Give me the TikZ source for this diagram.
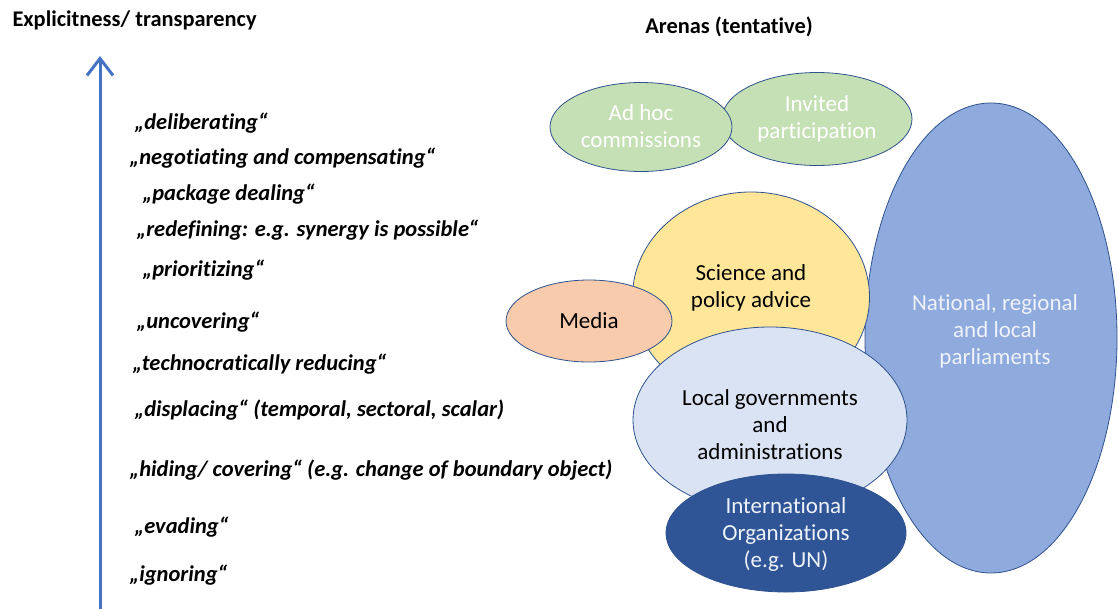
\documentclass[tikz,border=0pt]{standalone}
\usepackage{fontspec}
\setmainfont{Carlito}[Ligatures=NoCommon]
\usetikzlibrary{arrows.meta,shapes.geometric}
\definecolor{arenaline}{HTML}{2F528F}
\definecolor{axisblue}{HTML}{4472C4}
\definecolor{adhocgreen}{HTML}{C5E0B4}
\definecolor{scienceyellow}{HTML}{FFE699}
\definecolor{mediaorange}{HTML}{F8CBAD}
\definecolor{localblue}{HTML}{DAE3F3}
\definecolor{nationalblue}{HTML}{8FAADC}
\definecolor{intlblue}{HTML}{2F5597}
\definecolor{palefont}{HTML}{EEF2FA}
\tikzset{
    >={Straight Barb[length=17pt,width=26pt]},
    heading/.style={font=\fontsize{22.4}{26}\selectfont\bfseries},
    strategy/.style={anchor=west, font=\fontsize{22.5}{26}\selectfont\bfseries\itshape},
    arena/.style={ellipse, draw=arenaline, line width=0.8pt, inner sep=0pt},
    arenatext/.style={inner sep=0pt, align=center, font=\fontsize{23}{27}\selectfont},
}

\begin{document}
\begin{tikzpicture}[x=1pt,y=-1pt]
    \useasboundingbox (0,0) rectangle (1118,608);

    \node[heading, anchor=west] (X) at (9,20) {Explicitness/ transparency};
    \node[heading] (A) at (729,27) {Arenas (tentative)};

    \coordinate (X0) at (100,612);
    \coordinate (X1) at (100,56);
    \draw[->, line width=3pt, axisblue] (X0) -- (X1);

    \node[strategy] (s1) at (131,123) {„deliberating“};
    \node[strategy] (s2) at (126,158) {„negotiating and compensating“};
    \node[strategy] (s3) at (139,194) {„package dealing“};
    \node[strategy] (s4) at (133,230) {„redefining: e.g. synergy is possible“};
    \node[strategy] (s5) at (139,270) {„prioritizing“};
    \node[strategy] (s6) at (133,322) {„uncovering“};
    \node[strategy] (s7) at (129,364) {„technocratically reducing“};
    \node[strategy] (s8) at (131,410) {„displacing“ (temporal, sectoral, scalar)};
    \node[strategy] (s9) at (126,470) {„hiding/ covering“ (e.g. change of boundary object)};
    \node[strategy] (s10) at (131,527) {„evading“};
    \node[strategy] (s11) at (126,575) {„ignoring“};

    \node[arena, fill=adhocgreen, minimum width=190pt, minimum height=93pt] (IP) at (817,119) {};
    \node[arenatext, text=white] (IPt) at (817,118.5) {Invited\\participation};
    \node[arena, fill=adhocgreen, minimum width=182pt, minimum height=89pt] (AH) at (641,127) {};
    \node[arenatext, text=white] (AHt) at (641,126.5) {Ad hoc\\commissions};
    \node[arena, fill=nationalblue, minimum width=252pt, minimum height=470pt] (NP) at (991,338) {};
    \node[arenatext, text=palefont] (NPt) at (995,331) {National, regional\\and local\\parliaments};
    \node[arena, fill=scienceyellow, minimum width=237pt, minimum height=210pt] (SP) at (751,297) {};
    \node[arenatext] (SPt) at (751,287.5) {Science and\\policy advice};
    \node[arena, fill=mediaorange, minimum width=166pt, minimum height=82pt] (M) at (589,321) {};
    \node[arenatext] (Mt) at (589,321) {Media};
    \node[arena, fill=localblue, minimum width=274pt, minimum height=186pt] (LG) at (770,420) {};
    \node[arenatext] (LGt) at (770,425) {Local governments\\and\\administrations};
    \node[arena, fill=intlblue, minimum width=240pt, minimum height=118pt] (IO) at (786,533) {};
    \node[arenatext, text=palefont] (IOt) at (786,534) {International\\Organizations\\(e.g. UN)};
\end{tikzpicture}
\end{document}
